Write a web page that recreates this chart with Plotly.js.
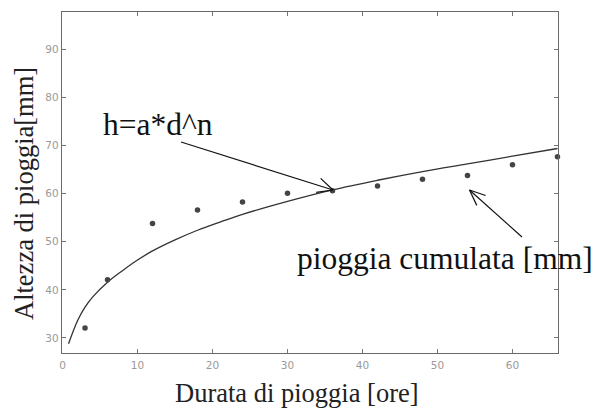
<!DOCTYPE html>
<html>
<head>
<meta charset="utf-8">
<script src="https://cdn.plot.ly/plotly-3.0.1.min.js"></script>
<style>html,body{margin:0;padding:0;background:#fff;}#chart{width:594px;height:410px;}</style>
</head>
<body>
<div id="chart"></div>
<script>
// Observed cumulative rainfall (points)
const durate = [3, 6, 12, 18, 24, 30, 36, 42, 48, 54, 60, 66];
const altezze = [32.1, 42.1, 53.8, 56.6, 58.3, 60.1, 60.6, 61.6, 63.0, 63.8, 66.0, 67.7];
// Fitted curve h = a*d^n
const curvaD = [0.8, 2, 3, 4, 6, 8, 10, 12, 15, 18, 21, 24, 30, 36, 42, 48, 54, 60, 66];
const curvaH = [28.8, 33.6, 36.4, 38.5, 41.6, 44.0, 46.2, 48.1, 50.4, 52.4, 54.1, 55.7, 58.4, 60.8, 62.8, 64.6, 66.2, 67.8, 69.4];
const xTicks = [0, 10, 20, 30, 40, 50, 60];
const yTicks = [30, 40, 50, 60, 70, 80, 90];

const W = 594, H = 410;
const M = {l: 62, r: 36, t: 12, b: 57};
const pw = W - M.l - M.r, ph = H - M.t - M.b;
const px = x => (x - M.l) / pw;      // pixel -> paper
const py = y => (H - M.b - y) / ph;

function arrow(x0, y0, x1, y1, len, ang) {
  const th = Math.atan2(y1 - y0, x1 - x0);
  const seg = (a, b, c, d) => ({type: 'line', xref: 'paper', yref: 'paper',
    x0: px(a), y0: py(b), x1: px(c), y1: py(d), line: {color: '#111', width: 1.2}});
  const out = [seg(x0, y0, x1, y1)];
  [ang, -ang].forEach(a => {
    const t = th + Math.PI - a;
    out.push(seg(x1, y1, x1 + len * Math.cos(t), y1 + len * Math.sin(t)));
  });
  return out;
}

const serif = 'Liberation Serif, Times New Roman, serif';
const traces = [
  {x: curvaD, y: curvaH, mode: 'lines', line: {color: '#333', width: 1.3, shape: 'spline'}, hoverinfo: 'skip'},
  {x: durate, y: altezze, mode: 'markers', marker: {color: '#444', size: 5.5, symbol: 'circle'}, cliponaxis: false}
];

const axisCommon = {
  showgrid: false, zeroline: false, showline: true, mirror: 'ticks',
  linecolor: '#6a6a6a', linewidth: 1.2, ticks: 'inside', ticklen: 4, tickcolor: '#777',
  tickfont: {family: 'DejaVu Sans, Arial, sans-serif', size: 10.5, color: '#999'}
};

const layout = {
  width: W, height: H, margin: M, showlegend: false,
  paper_bgcolor: '#fff', plot_bgcolor: '#fff',
  xaxis: Object.assign({}, axisCommon, {
    range: [-0.07, 66.07], tickvals: xTicks, ticktext: xTicks.map(String),
    ticklabelstandoff: 2
  }),
  yaxis: Object.assign({}, axisCommon, {
    range: [26.88, 97.78], tickvals: yTicks, ticktext: yTicks.map(String)
  }),
  annotations: [
    {xref: 'paper', yref: 'paper', x: px(297), y: py(393), xanchor: 'center', yanchor: 'middle',
     text: 'Durata di pioggia [ore]', showarrow: false, font: {family: serif, size: 26.5, color: '#222'}},
    {xref: 'paper', yref: 'paper', x: px(24), y: py(194), xanchor: 'center', yanchor: 'middle', textangle: -90,
     text: 'Altezza di pioggia[mm]', showarrow: false, font: {family: serif, size: 26.5, color: '#222'}},
    {xref: 'paper', yref: 'paper', x: px(158), y: py(124), xanchor: 'center', yanchor: 'middle',
     text: 'h=a*d^n', showarrow: false, font: {family: serif, size: 31.5, color: '#111'}},
    {xref: 'paper', yref: 'paper', x: px(444.5), y: py(258), xanchor: 'center', yanchor: 'middle',
     text: 'pioggia cumulata [mm]', showarrow: false, font: {family: serif, size: 31.5, color: '#111'}}
  ],
  shapes: [].concat(arrow(181, 142, 333, 190, 17, 0.45), arrow(522, 237, 469.5, 190, 17, 0.4))
};

Plotly.newPlot('chart', traces, layout, {displayModeBar: false, staticPlot: true});
</script>
</body>
</html>
